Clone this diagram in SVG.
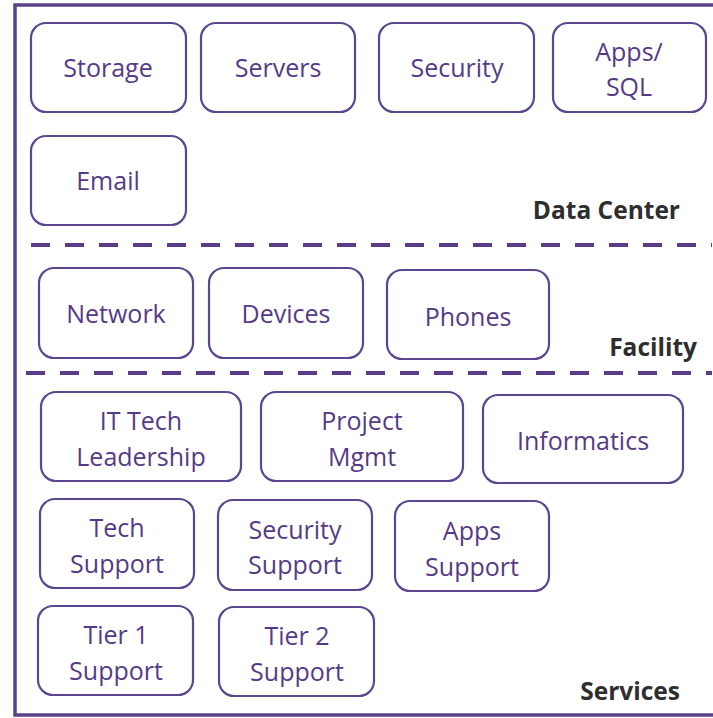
<svg xmlns="http://www.w3.org/2000/svg" width="713" height="718" viewBox="0 0 713 718">
<style>
.box{fill:#fff;stroke:#5c4690;stroke-width:2.2}
.t{font-family:"Open Sans","Liberation Sans",sans-serif;font-size:25px;fill:#563a88;text-anchor:middle}
.lbl{font-family:"Open Sans","Liberation Sans",sans-serif;font-size:24.5px;font-weight:bold;fill:#2e2e2e;text-anchor:end}
.dash{stroke:#5a3c88;stroke-width:4;stroke-dasharray:19 15;fill:none}
</style>
<rect x="0" y="0" width="713" height="718" fill="#fff"/>
<rect x="15" y="5" width="720" height="710" fill="none" stroke="#5a4289" stroke-width="3.5"/>
<g id="connectors">
<line class="dash" x1="31" y1="245" x2="712" y2="245"/>
<line class="dash" x1="26" y1="373" x2="712" y2="373"/>
</g>
<g id="storage"><rect class="box" x="31" y="23" width="155" height="89" rx="15"/><text class="t" x="108" y="77">Storage</text></g>
<g id="servers"><rect class="box" x="201" y="23" width="154" height="89" rx="15"/><text class="t" x="278" y="77">Servers</text></g>
<g id="security"><rect class="box" x="379" y="23" width="155" height="89" rx="15"/><text class="t" x="457" y="77">Security</text></g>
<g id="apps-sql"><rect class="box" x="553" y="23" width="153" height="89" rx="15"/><text class="t" x="629" y="61">Apps/</text><text class="t" x="629" y="96">SQL</text></g>
<g id="email"><rect class="box" x="31" y="136" width="155" height="89" rx="15"/><text class="t" x="108" y="190">Email</text></g>
<text class="lbl" x="680" y="219">Data Center</text>
<g id="network"><rect class="box" x="39" y="268" width="154" height="90" rx="15"/><text class="t" x="116" y="323">Network</text></g>
<g id="devices"><rect class="box" x="209" y="268" width="154" height="90" rx="15"/><text class="t" x="286" y="323">Devices</text></g>
<g id="phones"><rect class="box" x="387" y="270" width="162" height="89" rx="15"/><text class="t" x="468" y="326">Phones</text></g>
<text class="lbl" x="697" y="356">Facility</text>
<g id="it-tech-leadership"><rect class="box" x="41" y="392" width="200" height="89" rx="15"/><text class="t" x="141" y="430">IT Tech</text><text class="t" x="141" y="466">Leadership</text></g>
<g id="project-mgmt"><rect class="box" x="261" y="392" width="202" height="89" rx="15"/><text class="t" x="362" y="430">Project</text><text class="t" x="362" y="466">Mgmt</text></g>
<g id="informatics"><rect class="box" x="483" y="395" width="200" height="88" rx="15"/><text class="t" x="583" y="450">Informatics</text></g>
<g id="tech-support"><rect class="box" x="40" y="499" width="154" height="89" rx="15"/><text class="t" x="117" y="537">Tech</text><text class="t" x="117" y="573">Support</text></g>
<g id="security-support"><rect class="box" x="218" y="500" width="154" height="90" rx="15"/><text class="t" x="295" y="539">Security</text><text class="t" x="295" y="574">Support</text></g>
<g id="apps-support"><rect class="box" x="395" y="501" width="154" height="90" rx="15"/><text class="t" x="472" y="540">Apps</text><text class="t" x="472" y="576">Support</text></g>
<g id="tier1-support"><rect class="box" x="38" y="606" width="155" height="89" rx="15"/><text class="t" x="116" y="644">Tier 1</text><text class="t" x="116" y="680">Support</text></g>
<g id="tier2-support"><rect class="box" x="219" y="607" width="155" height="89" rx="15"/><text class="t" x="297" y="645">Tier 2</text><text class="t" x="297" y="681">Support</text></g>
<text class="lbl" x="680" y="700">Services</text>
</svg>
